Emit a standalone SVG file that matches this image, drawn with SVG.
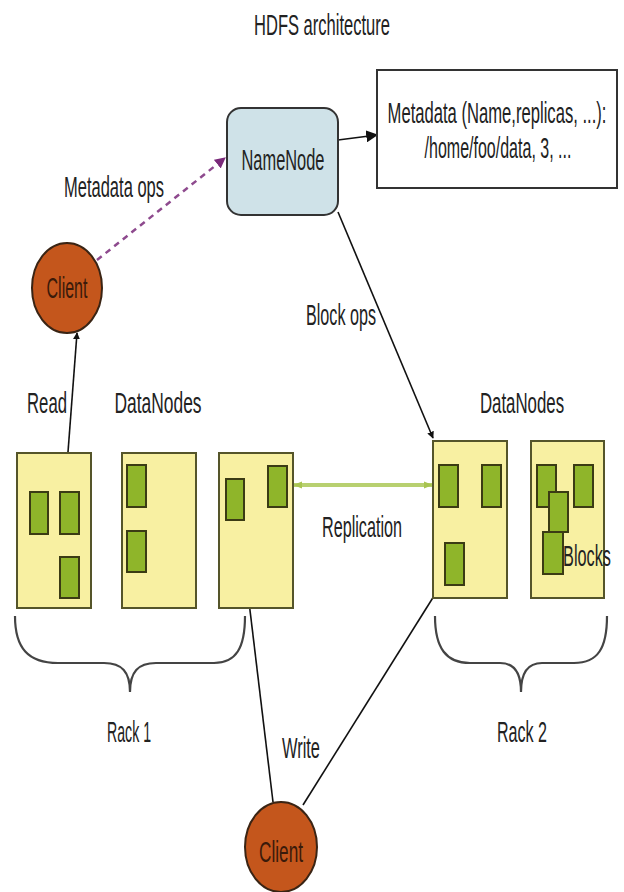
<svg xmlns="http://www.w3.org/2000/svg" width="624" height="892" viewBox="0 0 624 892">
<defs>
<style>
text{font-family:"Liberation Sans",Arial,sans-serif;font-size:30px;fill:#222;text-anchor:middle}
.dn{fill:#f8f0a2;stroke:#55552a;stroke-width:2}
.blk{fill:#8fb52a;stroke:#3b3b14;stroke-width:2}
.cl{fill:#c4561c;stroke:#3a2414;stroke-width:2}
.conn{stroke:#111;stroke-width:1.6;fill:none}
.brace{fill:none;stroke:#444;stroke-width:2.2}
</style>
<marker id="ah" viewBox="0 0 10 10" refX="9" refY="5" markerWidth="7" markerHeight="7" orient="auto" markerUnits="userSpaceOnUse">
<path d="M0,0 L10,5 L0,10 z" fill="#111"/>
</marker>
<marker id="ahb" viewBox="0 0 10 10" refX="9" refY="5" markerWidth="12" markerHeight="12" orient="auto" markerUnits="userSpaceOnUse">
<path d="M0,0 L10,5 L0,10 z" fill="#111"/>
</marker>
<marker id="ahp" viewBox="0 0 10 10" refX="9" refY="5" markerWidth="11" markerHeight="11" orient="auto" markerUnits="userSpaceOnUse">
<path d="M0,0 L10,5 L0,10 z" fill="#7a2a7a"/>
</marker>
<marker id="ahg" viewBox="0 0 10 10" refX="9" refY="5" markerWidth="9" markerHeight="9" orient="auto-start-reverse" markerUnits="userSpaceOnUse">
<path d="M0,1 L10,5 L0,9 z" fill="#a8c450"/>
</marker>
</defs>
<rect width="624" height="892" fill="#fff"/>
<text x="322" y="35" textLength="136" lengthAdjust="spacingAndGlyphs">HDFS architecture</text>

<g id="connectors">
<line x1="97" y1="260" x2="225" y2="158" stroke="#8e4a8e" stroke-width="2.5" stroke-dasharray="6,5" marker-end="url(#ahp)"/>
<line class="conn" x1="338" y1="140" x2="377" y2="135" stroke-width="2.5" marker-end="url(#ahb)"/>
<line class="conn" x1="338" y1="212" x2="433" y2="438" marker-end="url(#ah)"/>
<line class="conn" x1="68" y1="452" x2="77" y2="333" marker-end="url(#ah)"/>
<line x1="294" y1="485" x2="432" y2="485" stroke="#b8d070" stroke-width="4" marker-start="url(#ahg)" marker-end="url(#ahg)"/>
<line class="conn" x1="273" y1="802" x2="240" y2="527" marker-end="url(#ah)"/>
<line class="conn" x1="303" y1="805" x2="444" y2="580" marker-end="url(#ah)"/>
</g>

<g id="namenode">
<rect x="227" y="108" width="111" height="107" rx="14" fill="#cfe2e8" stroke="#333" stroke-width="2"/>
<text x="283" y="170" textLength="83" lengthAdjust="spacingAndGlyphs">NameNode</text>
</g>

<g id="metadata">
<rect x="377" y="70" width="240" height="118" fill="#fff" stroke="#333" stroke-width="2"/>
<text transform="translate(497,123) scale(0.55,1)" textLength="398" lengthAdjust="spacingAndGlyphs">Metadata (Name,replicas, ...):</text>
<text transform="translate(498,158) scale(0.55,1)" textLength="267" lengthAdjust="spacingAndGlyphs">/home/foo/data, 3, ...</text>
</g>

<g id="client-top">
<ellipse class="cl" cx="67" cy="288" rx="35" ry="45"/>
<text x="67" y="298" textLength="41" lengthAdjust="spacingAndGlyphs" style="fill:#3a1a0a">Client</text>
</g>

<g id="client-bottom">
<ellipse class="cl" cx="281" cy="847" rx="36" ry="45"/>
<text x="281" y="862" textLength="44" lengthAdjust="spacingAndGlyphs" style="fill:#3a1a0a">Client</text>
</g>

<g id="labels">
<text x="114" y="197" textLength="100" lengthAdjust="spacingAndGlyphs">Metadata ops</text>
<text x="341" y="325" textLength="70" lengthAdjust="spacingAndGlyphs">Block ops</text>
<text x="47" y="413" textLength="40" lengthAdjust="spacingAndGlyphs">Read</text>
<text x="158" y="413" textLength="87" lengthAdjust="spacingAndGlyphs">DataNodes</text>
<text transform="translate(522,413) scale(0.55,1)" textLength="153" lengthAdjust="spacingAndGlyphs">DataNodes</text>
<text x="362" y="537" textLength="80" lengthAdjust="spacingAndGlyphs">Replication</text>
<text x="129" y="742" textLength="44" lengthAdjust="spacingAndGlyphs">Rack 1</text>
<text transform="translate(522,742) scale(0.55,1)" textLength="91" lengthAdjust="spacingAndGlyphs">Rack 2</text>
<text x="301" y="758" textLength="38" lengthAdjust="spacingAndGlyphs">Write</text>
</g>

<g id="rack1-node1">
<rect class="dn" x="17" y="453" width="74" height="155"/>
<rect class="blk" x="30" y="492" width="18" height="42"/>
<rect class="blk" x="60" y="492" width="19" height="42"/>
<rect class="blk" x="60" y="557" width="19" height="41"/>
</g>
<g id="rack1-node2">
<rect class="dn" x="122" y="453" width="74" height="155"/>
<rect class="blk" x="127" y="465" width="19" height="42"/>
<rect class="blk" x="127" y="531" width="19" height="41"/>
</g>
<g id="rack1-node3">
<rect class="dn" x="219" y="453" width="74" height="155"/>
<rect class="blk" x="226" y="479" width="18" height="41"/>
<rect class="blk" x="268" y="466" width="19" height="41"/>
</g>
<g id="rack2-node1">
<rect class="dn" x="433" y="441" width="74" height="157"/>
<rect class="blk" x="439" y="465" width="19" height="42"/>
<rect class="blk" x="482" y="465" width="19" height="42"/>
<rect class="blk" x="445" y="543" width="19" height="42"/>
</g>
<g id="rack2-node2">
<rect class="dn" x="531" y="441" width="73" height="157"/>
<rect class="blk" x="537" y="465" width="19" height="42"/>
<rect class="blk" x="574" y="465" width="19" height="42"/>
<rect class="blk" x="549" y="492" width="19" height="40"/>
<rect class="blk" x="543" y="532" width="20" height="42"/>
<text transform="translate(587,566) scale(0.55,1)" textLength="87" lengthAdjust="spacingAndGlyphs">Blocks</text>
</g>

<g id="rack1-brace">
<path class="brace" d="M15,616 C15,648 28,663 58,663 L104,663 C122,663 130,672 130,692 C130,672 138,663 156,663 L214,663 C236,663 245,648 245,616"/>
</g>
<g id="rack2-brace">
<path class="brace" d="M435,616 C435,648 446,663 470,663 L500,663 C514,663 521,672 521,692 C521,672 528,663 542,663 L574,663 C598,663 607,648 607,616"/>
</g>
</svg>
